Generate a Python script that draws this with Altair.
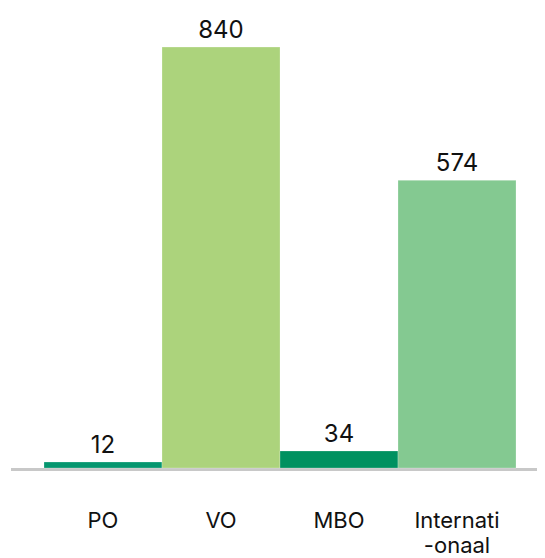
import altair as alt
import pandas as pd

categories = ["PO", "VO", "MBO", "Internationaal"]
values = [12, 840, 34, 574]
axis_labels = ["PO", "VO", "MBO", "Internati\n-onaal"]
colors = ["#05966f", "#acd37c", "#009160", "#84c991"]

df = pd.DataFrame({"cat": categories, "value": values, "label": axis_labels, "color": colors})

FONT = "Inter"

x = alt.X("cat:N", sort=categories,
          scale=alt.Scale(range=[33, 505], paddingInner=0, paddingOuter=0), axis=None)
y = alt.Y("value:Q", scale=alt.Scale(domain=[0, 918]), axis=None)

base = alt.Chart(df)
bars = base.mark_bar(stroke="#ffffff", strokeWidth=0.6, strokeOpacity=0.4).encode(
    x=x, y=y, color=alt.Color("color:N", scale=None))
vals = base.mark_text(baseline="alphabetic", dy=-9, fontSize=24, font=FONT, color="#111111").encode(
    x=x, y=y, text="value:Q")
labels = base.mark_text(baseline="alphabetic", fontSize=22, font=FONT, color="#111111",
                        lineBreak="\n", lineHeight=25).encode(
    x=x, y=alt.value(520), text="label:N")
baseline = alt.Chart(pd.DataFrame({"v": [0]})).mark_rule(color="#c8c8c8", strokeWidth=3).encode(
    x=alt.value(0), x2=alt.value(526), y=alt.value(461.5))

chart = alt.layer(baseline, bars, vals, labels).properties(
    width=526, height=460, autosize="none",
    padding={"left": 3, "top": 0, "right": 0, "bottom": 86}
).configure_view(stroke=None)

chart.save("out.html", embed_options={"renderer": "svg", "actions": False})
